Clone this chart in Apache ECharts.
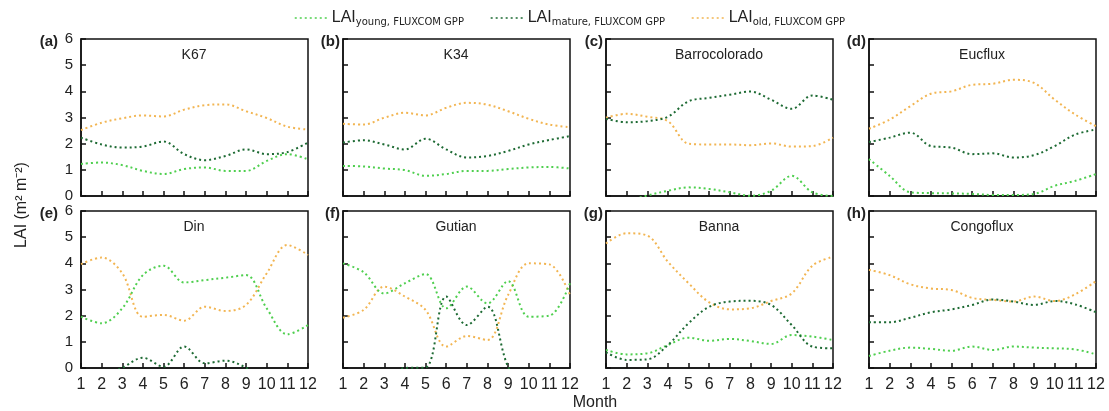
<!DOCTYPE html>
<html>
<head>
<meta charset="utf-8">
<script src="https://cdn.jsdelivr.net/npm/echarts@6/dist/echarts.min.js"></script>
<style>
  html, body { margin: 0; padding: 0; background: #fff; }
  #chart { width: 1109px; height: 411px; }
</style>
</head>
<body>
<div id="chart"></div>
<script>
var months = ['1', '2', '3', '4', '5', '6', '7', '8', '9', '10', '11', '12'];
var siteNames = ['K67', 'K34', 'Barrocolorado', 'Eucflux', 'Din', 'Gutian', 'Banna', 'Congoflux'];
var panelTags = ['(a)', '(b)', '(c)', '(d)', '(e)', '(f)', '(g)', '(h)'];

// LAI per month, m2 m-2 (values below 0 fall outside the plot, as in the figure)
var k67Young = [1.22, 1.28, 1.18, 0.96, 0.84, 1.03, 1.09, 0.96, 0.96, 1.34, 1.6, 1.4];
var k67Mature = [2.23, 1.97, 1.85, 1.89, 2.08, 1.6, 1.37, 1.53, 1.78, 1.6, 1.68, 2.04];
var k67Old = [2.52, 2.8, 2.97, 3.08, 3.04, 3.3, 3.47, 3.5, 3.24, 2.98, 2.65, 2.54];

var k34Young = [1.15, 1.13, 1.05, 0.99, 0.77, 0.84, 0.96, 0.96, 1.03, 1.09, 1.11, 1.05];
var k34Mature = [2.04, 2.13, 1.97, 1.78, 2.19, 1.78, 1.47, 1.53, 1.72, 1.97, 2.14, 2.29];
var k34Old = [2.76, 2.73, 2.99, 3.18, 3.08, 3.37, 3.56, 3.49, 3.24, 2.95, 2.73, 2.63];

var barroYoung = [-0.4, -0.2, 0.02, 0.2, 0.33, 0.27, 0.14, 0.01, 0.2, 0.77, 0.14, 0.0];
var barroMature = [2.95, 2.82, 2.86, 3.03, 3.62, 3.75, 3.87, 3.99, 3.68, 3.33, 3.84, 3.68];
var barroOld = [2.99, 3.14, 3.03, 2.86, 2.0, 1.97, 1.97, 1.94, 2.01, 1.89, 1.91, 2.23];

var eucYoung = [1.41, 0.77, 0.14, 0.11, 0.1, 0.08, 0.04, 0.04, 0.08, 0.39, 0.58, 0.84];
var eucMature = [2.06, 2.23, 2.42, 1.91, 1.85, 1.6, 1.63, 1.47, 1.56, 1.91, 2.35, 2.54];
var eucOld = [2.57, 2.92, 3.43, 3.91, 4.0, 4.25, 4.29, 4.44, 4.32, 3.68, 3.11, 2.67];

var dinYoung = [1.96, 1.71, 2.28, 3.55, 3.91, 3.27, 3.36, 3.45, 3.55, 2.28, 1.29, 1.64];
var dinMature = [-0.6, -0.3, 0.01, 0.39, 0.05, 0.82, 0.18, 0.28, 0.01, -0.5, -0.8, -0.6];
var dinOld = [3.97, 4.22, 3.62, 1.96, 2.03, 1.81, 2.34, 2.18, 2.41, 3.62, 4.7, 4.32];

var gutianYoung = [4.0, 3.66, 2.85, 3.24, 3.59, 2.28, 3.11, 2.47, 3.32, 1.96, 2.0, 3.24];
var gutianMature = [-1.0, -0.9, -0.5, 0.0, 0.02, 2.73, 1.64, 2.34, 0.05, -1.0, -1.0, -1.0];
var gutianOld = [1.92, 2.22, 3.11, 2.73, 2.22, 0.82, 1.22, 1.07, 2.79, 4.0, 3.96, 2.79];

var bannaYoung = [0.69, 0.52, 0.56, 0.88, 1.16, 1.04, 1.11, 1.03, 0.92, 1.26, 1.2, 1.07];
var bannaMature = [0.6, 0.31, 0.33, 0.88, 1.71, 2.34, 2.54, 2.57, 2.41, 1.64, 0.82, 0.75];
var bannaOld = [4.76, 5.15, 5.06, 4.06, 3.24, 2.51, 2.24, 2.28, 2.56, 2.85, 3.91, 4.25];

var congoYoung = [0.46, 0.66, 0.78, 0.73, 0.66, 0.82, 0.69, 0.82, 0.78, 0.75, 0.71, 0.52];
var congoMature = [1.75, 1.75, 1.92, 2.13, 2.24, 2.41, 2.62, 2.54, 2.41, 2.56, 2.43, 2.13];
var congoOld = [3.75, 3.55, 3.2, 3.04, 2.98, 2.68, 2.6, 2.54, 2.73, 2.56, 2.82, 3.32];

var youngSets = [k67Young, k34Young, barroYoung, eucYoung, dinYoung, gutianYoung, bannaYoung, congoYoung];
var matureSets = [k67Mature, k34Mature, barroMature, eucMature, dinMature, gutianMature, bannaMature, congoMature];
var oldSets = [k67Old, k34Old, barroOld, eucOld, dinOld, gutianOld, bannaOld, congoOld];

var seriesKeys = ['young', 'mature', 'old'];
var seriesColors = { young: '#4fcf4f', mature: '#1d6a33', old: '#f2b552' };

var chart = echarts.init(document.getElementById('chart'));

var lefts = [81, 343, 606, 869];
var tops = [39, 211];
var grids = [], xAxes = [], yAxes = [], series = [], graphics = [];

for (var i = 0; i < 8; i++) {
  var col = i % 4, row = Math.floor(i / 4);
  grids.push({
    left: lefts[col], top: tops[row], width: 227, height: 157,
    show: true, borderColor: '#111', borderWidth: 1.5
  });
  xAxes.push({
    type: 'category', gridIndex: i, data: months, boundaryGap: false,
    axisLine: { lineStyle: { color: '#111', width: 1.5 } },
    axisTick: { inside: true, length: 5, interval: 0, lineStyle: { color: '#111', width: 1.5 } },
    axisLabel: { show: row === 1, interval: 0, hideOverlap: false, fontSize: 16, color: '#222', margin: 9, fontFamily: 'Liberation Sans' },
    splitLine: { show: false }
  });
  yAxes.push({
    type: 'value', gridIndex: i, min: 0, max: 6, interval: 1,
    axisLine: { show: true, lineStyle: { color: '#111', width: 1.5 } },
    axisTick: { show: true, inside: true, length: 5, lineStyle: { color: '#111', width: 1.5 } },
    axisLabel: { show: col === 0, fontSize: 15, color: '#222', margin: 8, fontFamily: 'Liberation Sans' },
    splitLine: { show: false }
  });
  var sets = { young: youngSets[i], mature: matureSets[i], old: oldSets[i] };
  seriesKeys.forEach(function (k) {
    series.push({
      name: k, type: 'line', xAxisIndex: i, yAxisIndex: i,
      data: sets[k], smooth: 0.35, showSymbol: false, symbol: 'none',
      clip: true,
      lineStyle: { color: seriesColors[k], width: 2, type: [2, 3] },
      itemStyle: { color: seriesColors[k] },
      z: k === 'old' ? 2 : 3
    });
  });
  // site name inside panel
  graphics.push({
    type: 'text', x: lefts[col] + 113, y: tops[row] + 16,
    style: { text: siteNames[i], font: '14px "Liberation Sans"', fill: '#222', textAlign: 'center', textVerticalAlign: 'middle' }
  });
  // panel tag
  var tagX = col === 0 ? 58 : lefts[col] - 3;
  graphics.push({
    type: 'text', x: tagX, y: tops[row] + 3,
    style: { text: panelTags[i], font: 'bold 15px "Liberation Sans"', fill: '#222', textAlign: 'right', textVerticalAlign: 'middle' }
  });
}

graphics.push({
  type: 'text', x: 595, y: 403,
  style: { text: 'Month', font: '16px "Liberation Sans"', fill: '#222', textAlign: 'center', textVerticalAlign: 'middle' }
});
graphics.push({
  type: 'text', x: 22, y: 205, rotation: Math.PI / 2,
  style: { text: 'LAI (m² m⁻²)', font: '16px "Liberation Sans"', fill: '#222', textAlign: 'center', textVerticalAlign: 'middle' }
});

var subs = { young: 'young, FLUXCOM GPP', mature: 'mature, FLUXCOM GPP', old: 'old, FLUXCOM GPP' };

option = {
  backgroundColor: '#fff',
  animation: false,
  legend: {
    data: seriesKeys,
    top: 5, left: 289,
    itemWidth: 32, itemHeight: 12, itemGap: 26,
    itemStyle: { opacity: 0 },
    lineStyle: { width: 1.5 },
    formatter: function (name) { return '{a|LAI}{b|' + subs[name] + '}'; },
    textStyle: {
      rich: {
        a: { fontSize: 16, fontFamily: 'Liberation Sans', color: '#222' },
        b: { fontSize: 10, fontFamily: 'DejaVu Sans', color: '#222', padding: [8, 0, 0, 0] }
      }
    }
  },
  grid: grids,
  xAxis: xAxes,
  yAxis: yAxes,
  series: series,
  graphic: graphics
};
chart.setOption(option);
</script>
</body>
</html>
